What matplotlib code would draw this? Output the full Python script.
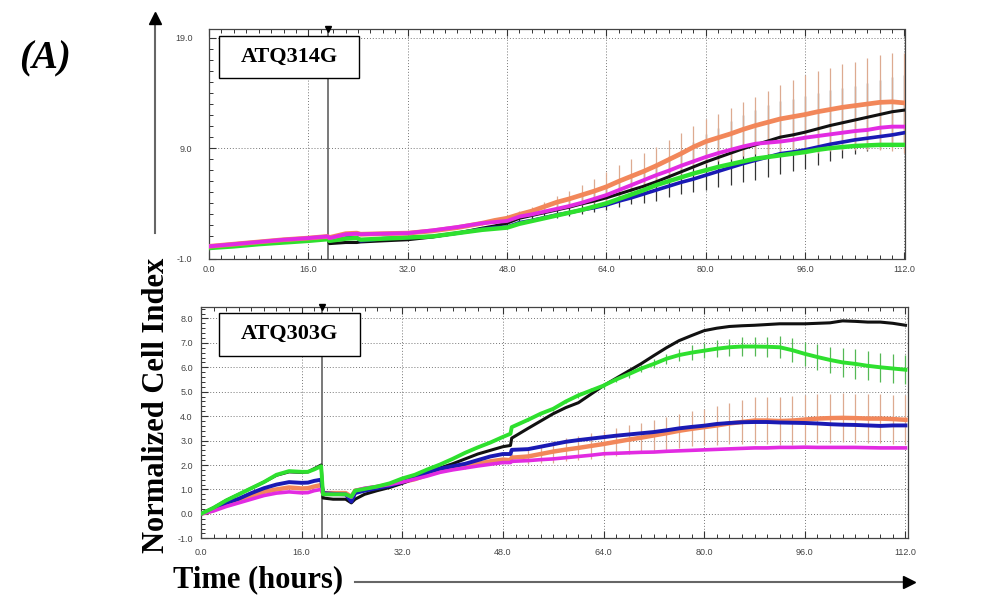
""" Normalized cell index curves (xCELLigence style), two cell lines

"""

# --------------------------------------------------
#   Imports
# --------------------------------------------------

import numpy as np
import matplotlib.pyplot as plt
from matplotlib.lines import Line2D
from matplotlib.patches import Rectangle
from matplotlib.ticker import MultipleLocator, FixedLocator, FormatStrFormatter


# --------------------------------------------------
#   Data
# --------------------------------------------------

# ---- top panel: ATQ314G
top_time = [0, 4, 8, 12, 16, 19.1, 19.4, 22, 23.8, 24.4, 28, 32, 36, 40, 44, 46,
            48, 50, 52, 54, 56, 58, 60, 62, 64, 66, 68, 70, 72, 74, 76, 78, 80,
            82, 84, 86, 88, 90, 92, 94, 96, 98, 100, 102, 104, 106, 108, 110, 112]

top_black = [-0.05, 0.15, 0.35, 0.55, 0.7, 0.85, 0.35, 0.45, 0.45, 0.5, 0.6, 0.7, 0.95, 1.3, 1.75, 1.95,
             2.2, 2.65, 2.9, 3.15, 3.4, 3.65, 3.95, 4.2, 4.5, 4.85, 5.2, 5.55, 5.95, 6.4, 6.85, 7.3, 7.75,
             8.15, 8.55, 8.95, 9.3, 9.65, 10.0, 10.2, 10.45, 10.75, 11.05, 11.3, 11.55, 11.8, 12.05, 12.3, 12.45]
top_black_err = [0, 0, 0, 0, 0, 0, 0, 0, 0, 0, 0, 0, 0, 0, 0, 0,
                 0.3, 0.4, 0.5, 0.6, 0.7, 0.8, 0.9, 1.0, 1.1, 1.2, 1.3, 1.5, 1.7, 1.85, 2.0, 2.25, 2.5,
                 2.7, 2.9, 3.05, 3.2, 3.25, 3.3, 3.3, 3.3, 3.25, 3.2, 3.15, 3.1, 3.1, 3.1, 3.15, 3.2]

top_orange = [0.1, 0.3, 0.5, 0.7, 0.85, 1.0, 0.9, 1.25, 1.3, 1.2, 1.25, 1.3, 1.5, 1.8, 2.2, 2.45,
              2.65, 3.0, 3.3, 3.7, 4.1, 4.4, 4.75, 5.1, 5.5, 6.0, 6.45, 6.9, 7.4, 7.95, 8.5, 9.1, 9.6,
              9.95, 10.3, 10.7, 11.05, 11.35, 11.65, 11.85, 12.05, 12.3, 12.5, 12.7, 12.85, 13.0, 13.15, 13.2, 13.1]
top_orange_err = [0, 0, 0, 0, 0, 0, 0, 0, 0, 0, 0, 0, 0, 0.1, 0.2, 0.25,
                  0.3, 0.35, 0.4, 0.45, 0.55, 0.7, 0.9, 1.1, 1.3, 1.45, 1.55, 1.65, 1.75, 1.8, 1.85, 1.9, 2.0,
                  2.15, 2.3, 2.45, 2.6, 2.85, 3.05, 3.3, 3.55, 3.7, 3.8, 3.9, 4.0, 4.15, 4.3, 4.45, 4.5]

top_magenta = [0.1, 0.3, 0.5, 0.7, 0.85, 1.0, 0.85, 1.2, 1.25, 1.2, 1.25, 1.3, 1.55, 1.85, 2.2, 2.3,
               2.4, 2.8, 3.0, 3.25, 3.5, 3.75, 4.05, 4.4, 4.75, 5.2, 5.65, 6.1, 6.55, 6.95, 7.4, 7.8, 8.2,
               8.55, 8.85, 9.15, 9.4, 9.5, 9.6, 9.75, 9.95, 10.1, 10.25, 10.4, 10.55, 10.65, 10.85, 10.95, 10.95]

top_blue = [0.0, 0.2, 0.4, 0.6, 0.75, 0.9, 0.6, 0.85, 0.9, 0.6, 0.8, 0.9, 1.0, 1.3, 1.65, 1.8,
            1.85, 2.25, 2.45, 2.7, 2.95, 3.15, 3.4, 3.6, 3.85, 4.2, 4.5, 4.85, 5.2, 5.55, 5.9, 6.2, 6.55,
            6.9, 7.25, 7.6, 7.9, 8.2, 8.5, 8.65, 8.85, 9.1, 9.35, 9.55, 9.75, 9.9, 10.05, 10.2, 10.4]

top_green = [-0.05, 0.1, 0.3, 0.45, 0.6, 0.75, 0.6, 0.8, 0.85, 0.7, 0.8, 0.9, 1.0, 1.3, 1.6, 1.7,
             1.8, 2.15, 2.4, 2.65, 2.9, 3.15, 3.4, 3.7, 4.0, 4.4, 4.8, 5.2, 5.65, 6.0, 6.35, 6.7, 7.0,
             7.3, 7.55, 7.8, 8.05, 8.2, 8.35, 8.5, 8.65, 8.85, 9.0, 9.1, 9.2, 9.25, 9.3, 9.3, 9.3]

top_yticks = [-1.0, 9.0, 19.0]

# ---- bottom panel: ATQ303G
bot_time = [0, 2, 4, 6, 8, 10, 12, 14, 16, 17, 18, 19.1, 19.4, 21, 23, 23.9, 24.5,
            26, 28, 30, 32, 34, 36, 38, 40, 42, 44, 46, 48, 49.2, 49.4,
            52, 54, 56, 58, 60, 62, 64, 66, 68, 70, 72, 74, 76, 78, 80, 82,
            84, 86, 88, 90, 92, 94, 96, 98, 100, 102, 104, 106, 108, 110, 112]

bot_green = [0.0, 0.25, 0.55, 0.8, 1.05, 1.3, 1.6, 1.75, 1.72, 1.72, 1.82, 1.95, 0.8, 0.8, 0.8, 0.7, 0.95,
             1.02, 1.12, 1.25, 1.45, 1.6, 1.82, 2.02, 2.25, 2.5, 2.72, 2.92, 3.15, 3.28, 3.55,
             3.85, 4.1, 4.3, 4.6, 4.85, 5.05, 5.25, 5.5, 5.72, 5.95, 6.14, 6.35, 6.5, 6.6, 6.68, 6.76,
             6.82, 6.85, 6.85, 6.84, 6.82, 6.7, 6.55, 6.42, 6.3, 6.2, 6.14, 6.06, 6.0, 5.95, 5.9]
bot_green_err = [0] * 31 + [
             0.05, 0.05, 0.08, 0.08, 0.1, 0.1, 0.12, 0.12, 0.15, 0.15, 0.18, 0.2, 0.25, 0.3, 0.3, 0.35,
             0.35, 0.38, 0.4, 0.42, 0.45, 0.48, 0.5, 0.52, 0.55, 0.58, 0.6, 0.6, 0.6, 0.6, 0.6]

bot_black = [0.0, 0.25, 0.55, 0.8, 1.05, 1.3, 1.58, 1.72, 1.7, 1.72, 1.85, 2.0, 0.65, 0.6, 0.6, 0.45, 0.6,
             0.8, 0.95, 1.08, 1.25, 1.45, 1.7, 1.88, 2.05, 2.25, 2.45, 2.6, 2.75, 2.8, 3.1,
             3.5, 3.8, 4.1, 4.35, 4.55, 4.9, 5.25, 5.55, 5.85, 6.15, 6.48, 6.8, 7.09, 7.3, 7.5, 7.6,
             7.67, 7.7, 7.72, 7.75, 7.78, 7.78, 7.78, 7.8, 7.82, 7.9, 7.88, 7.85, 7.85, 7.8, 7.72]

bot_blue = [0.0, 0.2, 0.45, 0.62, 0.85, 1.05, 1.2, 1.3, 1.27, 1.28, 1.35, 1.4, 0.85, 0.82, 0.8, 0.5, 0.85,
            0.95, 1.05, 1.15, 1.3, 1.48, 1.7, 1.85, 1.95, 2.05, 2.2, 2.35, 2.45, 2.45, 2.62,
            2.65, 2.75, 2.85, 2.95, 3.02, 3.08, 3.14, 3.2, 3.25, 3.3, 3.35, 3.42, 3.5, 3.56, 3.61, 3.68,
            3.72, 3.75, 3.76, 3.76, 3.74, 3.73, 3.72, 3.7, 3.67, 3.65, 3.64, 3.62, 3.6, 3.62, 3.62]

bot_orange = [0.0, 0.15, 0.38, 0.55, 0.72, 0.9, 1.0, 1.08, 1.04, 1.05, 1.12, 1.18, 0.85, 0.85, 0.85, 0.7, 0.95,
              1.02, 1.1, 1.2, 1.3, 1.42, 1.6, 1.75, 1.85, 1.95, 2.05, 2.15, 2.22, 2.2, 2.3,
              2.35, 2.45, 2.55, 2.63, 2.7, 2.78, 2.86, 2.95, 3.04, 3.12, 3.21, 3.3, 3.4, 3.48, 3.55, 3.62,
              3.7, 3.76, 3.82, 3.82, 3.8, 3.82, 3.86, 3.9, 3.92, 3.93, 3.92, 3.9, 3.9, 3.88, 3.85]
bot_orange_err = [0] * 25 + [0.1, 0.1, 0.1, 0.1, 0.12, 0.15] + [
              0.3, 0.38, 0.45, 0.48, 0.5, 0.52, 0.55, 0.58, 0.6, 0.62, 0.65, 0.68, 0.7, 0.72, 0.75, 0.8,
              0.85, 0.9, 0.95, 0.98, 1.0, 1.0, 1.0, 1.0, 1.0, 1.0, 1.0, 1.0, 1.0, 1.0, 1.0]

bot_magenta = [0.0, 0.12, 0.3, 0.45, 0.6, 0.75, 0.85, 0.9, 0.86, 0.87, 0.95, 1.0, 0.8, 0.8, 0.8, 0.68, 0.95,
               1.05, 1.12, 1.2, 1.3, 1.42, 1.55, 1.7, 1.8, 1.88, 1.96, 2.03, 2.1, 2.1, 2.15,
               2.18, 2.22, 2.25, 2.3, 2.35, 2.4, 2.46, 2.48, 2.5, 2.52, 2.53, 2.56, 2.58, 2.6, 2.62, 2.64,
               2.66, 2.68, 2.7, 2.7, 2.72, 2.72, 2.73, 2.72, 2.72, 2.72, 2.72, 2.71, 2.7, 2.7, 2.7]

bot_yticks = [-1.0, 0.0, 1.0, 2.0, 3.0, 4.0, 5.0, 6.0, 7.0, 8.0]

TREATMENT_TIME = 19.2

# --------------------------------------------------
#   Styles
# --------------------------------------------------

W, H = 992, 597
SERIF = 'Liberation Serif'
SANS = 'Liberation Sans'

BLACK = '#111111'
ORANGE = '#F2875A'
GREEN = '#2EE02E'
BLUE = '#1A1AB4'
MAGENTA = '#E22BE2'

ORANGE_ERR = '#DDAA90'
BLACK_ERR = '#333333'
GREEN_ERR = '#55B855'


def fx(px):
    return px / W


def fy(py):
    return 1 - py / H


# --------------------------------------------------
#   Functions
# --------------------------------------------------

def draw_errors(ax, t, v, e, color):
    t, v, e = np.asarray(t), np.asarray(v), np.asarray(e)
    keep = e > 0
    ax.vlines(t[keep], v[keep] - e[keep], v[keep] + e[keep], color=color, lw=0.9, zorder=2)


def style_axes(ax, ylim, yticks, yminor, xlim_right, ylabel_pad, xlabel_pad):
    ax.set_xlim(0, xlim_right)
    ax.set_ylim(*ylim)
    ax.xaxis.set_major_locator(MultipleLocator(16))
    ax.xaxis.set_minor_locator(MultipleLocator(2))
    ax.yaxis.set_major_locator(FixedLocator(yticks))
    ax.yaxis.set_minor_locator(MultipleLocator(yminor))
    ax.xaxis.set_major_formatter(FormatStrFormatter('%.1f'))
    ax.yaxis.set_major_formatter(FormatStrFormatter('%.1f'))
    ax.tick_params(which='both', direction='in', top=True, right=False, color='#333333')
    ax.tick_params(which='major', length=5, width=0.8, labelsize=6.5, labelcolor='#444444')
    ax.tick_params(which='minor', length=3, width=0.7)
    ax.tick_params(axis='x', which='major', pad=xlabel_pad)
    ax.tick_params(axis='y', which='major', pad=ylabel_pad)
    for label in ax.get_xticklabels() + ax.get_yticklabels():
        label.set_family(SANS)
    for spine in ax.spines.values():
        spine.set_color('#444444')
        spine.set_linewidth(0.9)
    ax.grid(which='major', linestyle=(0, (1, 2)), color='#777777', linewidth=0.7)
    ax.axvline(TREATMENT_TIME, color='#555555', lw=1.1, zorder=1)
    ax.plot([TREATMENT_TIME], [ylim[1]], marker='v', ms=5, color='k', clip_on=False, zorder=6)


def name_box(ax, rect, text_xy, name):
    ax.add_patch(Rectangle(rect[:2], rect[2], rect[3], transform=ax.transAxes,
                           facecolor='white', edgecolor='black', lw=1.0, zorder=7))
    ax.text(*text_xy, name, transform=ax.transAxes, ha='center', va='center',
            family=SERIF, fontweight='bold', fontsize=16, zorder=8)


# --------------------------------------------------
#   Figure
# --------------------------------------------------

fig = plt.figure(figsize=(W / 100, H / 100), dpi=100)

# top panel
ax_top = fig.add_axes([fx(209), fy(258.5), (904.5 - 209) / W, (258.5 - 29) / H])
style_axes(ax_top, (-1.0, 19.8), top_yticks, 1, 112.0, 12, 5)
draw_errors(ax_top, top_time, top_black, top_black_err, BLACK_ERR)
draw_errors(ax_top, top_time, top_orange, top_orange_err, ORANGE_ERR)
ax_top.plot(top_time, top_black, color=BLACK, lw=2.2, zorder=3)
ax_top.plot(top_time, top_blue, color=BLUE, lw=2.6, zorder=3)
ax_top.plot(top_time, top_green, color=GREEN, lw=3.2, zorder=3)
ax_top.plot(top_time, top_orange, color=ORANGE, lw=3.4, zorder=4)
ax_top.plot(top_time, top_magenta, color=MAGENTA, lw=2.8, zorder=4)
name_box(ax_top, (0.0144, 0.786, 0.2014, 0.1834), (0.115, 0.878), 'ATQ314G')

# bottom panel
ax_bot = fig.add_axes([fx(201), fy(538.3), (908 - 201) / W, (538.3 - 306.7) / H])
style_axes(ax_bot, (-1.0, 8.48), bot_yticks, 0.2, 112.4, 6, 7)
draw_errors(ax_bot, bot_time, bot_orange, bot_orange_err, ORANGE_ERR)
draw_errors(ax_bot, bot_time, bot_green, bot_green_err, GREEN_ERR)
ax_bot.plot(bot_time, bot_orange, color=ORANGE, lw=3.2, zorder=3)
ax_bot.plot(bot_time, bot_black, color=BLACK, lw=2.2, zorder=3)
ax_bot.plot(bot_time, bot_blue, color=BLUE, lw=2.8, zorder=4)
ax_bot.plot(bot_time, bot_magenta, color=MAGENTA, lw=2.6, zorder=4)
ax_bot.plot(bot_time, bot_green, color=GREEN, lw=2.8, zorder=5)
name_box(ax_bot, (0.0255, 0.788, 0.1994, 0.186), (0.125, 0.881), 'ATQ303G')

# axis arrows and labels
fig.add_artist(Line2D([fx(155), fx(155)], [fy(233), fy(20)], transform=fig.transFigure,
                      color='#666666', lw=1.5))
fig.add_artist(Line2D([fx(155)], [fy(18)], transform=fig.transFigure,
                      marker='^', ms=8, color='black', lw=0))
fig.add_artist(Line2D([fx(355), fx(906)], [fy(582), fy(582)], transform=fig.transFigure,
                      color='#666666', lw=1.5))
fig.add_artist(Line2D([fx(909)], [fy(582)], transform=fig.transFigure,
                      marker='>', ms=8, color='black', lw=0))

fig.text(fx(157), fy(405), 'Normalized Cell Index', rotation=90, ha='center', va='center',
         family=SERIF, fontweight='bold', fontsize=22)
fig.text(fx(258), fy(580), 'Time (hours)', ha='center', va='center',
         family=SERIF, fontweight='bold', fontsize=22)
fig.text(fx(45), fy(59), '(A)', ha='center', va='center',
         family=SERIF, fontweight='bold', fontstyle='italic', fontsize=28)

fig.savefig('out.png', dpi=100)
